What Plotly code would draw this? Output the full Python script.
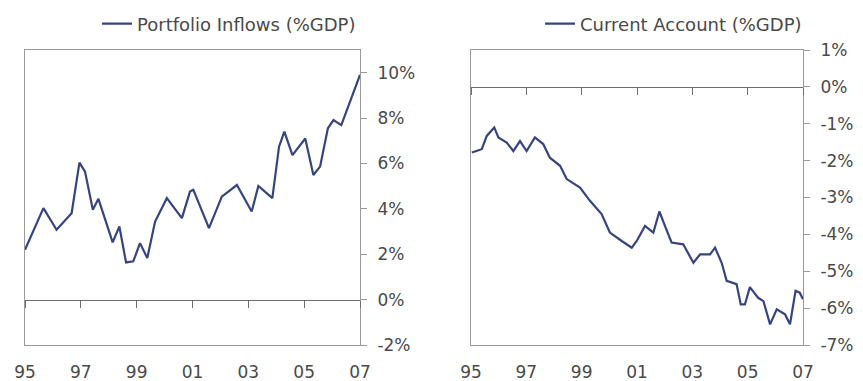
import plotly.graph_objects as go

# Portfolio inflows (% GDP), vertices (decimal years)
pi_dates = [1995.0, 1995.66, 1996.13, 1996.67, 1996.95, 1997.15, 1997.43, 1997.63,
            1998.14, 1998.38, 1998.62, 1998.88, 1999.12, 1999.38, 1999.66, 2000.08,
            2000.62, 2000.91, 2001.03, 2001.59, 2002.05, 2002.59, 2003.12, 2003.36,
            2003.86, 2004.10, 2004.29, 2004.58, 2005.04, 2005.33, 2005.57, 2005.85,
            2006.05, 2006.33, 2006.95, 2007.0]
pi_values = [2.2, 4.03, 3.08, 3.81, 6.04, 5.64, 3.96, 4.44,
             2.52, 3.22, 1.64, 1.69, 2.49, 1.83, 3.44, 4.47,
             3.59, 4.76, 4.84, 3.15, 4.54, 5.05, 3.88, 5.01,
             4.47, 6.74, 7.4, 6.37, 7.1, 5.49, 5.86, 7.55,
             7.91, 7.69, 9.74, 9.9]

# Current account (% GDP)
ca_dates = [1995.03, 1995.39, 1995.57, 1995.84, 1995.99, 1996.29, 1996.53, 1996.77,
            1997.01, 1997.31, 1997.61, 1997.85, 1998.22, 1998.46, 1998.94, 1999.30,
            1999.72, 2000.02, 2000.45, 2000.81, 2000.99, 2001.29, 2001.59, 2001.81,
            2002.01, 2002.25, 2002.67, 2003.04, 2003.28, 2003.64, 2003.82, 2004.06,
            2004.24, 2004.60, 2004.75, 2004.90, 2005.08, 2005.38, 2005.57, 2005.81,
            2006.05, 2006.35, 2006.53, 2006.73, 2006.88, 2007.0]
ca_values = [-1.78, -1.69, -1.33, -1.10, -1.37, -1.51, -1.74, -1.47,
             -1.74, -1.37, -1.55, -1.92, -2.14, -2.50, -2.73, -3.09,
             -3.45, -3.95, -4.18, -4.36, -4.18, -3.77, -3.95, -3.38,
             -3.77, -4.22, -4.27, -4.77, -4.54, -4.54, -4.36, -4.77,
             -5.26, -5.35, -5.90, -5.90, -5.43, -5.72, -5.81, -6.44,
             -6.03, -6.17, -6.44, -5.53, -5.58, -5.76]

year_ticks = [1995, 1997, 1999, 2001, 2003, 2005, 2007]
year_labels = ["95", "97", "99", "01", "03", "05", "07"]
left_yticks = [-2, 0, 2, 4, 6, 8, 10]
left_ylabels = ["-2%", "0%", "2%", "4%", "6%", "8%", "10%"]
right_yticks = [-7, -6, -5, -4, -3, -2, -1, 0, 1]
right_ylabels = ["-7%", "-6%", "-5%", "-4%", "-3%", "-2%", "-1%", "0%", "1%"]

# the page body has an 8px margin: size the figure to fill the rest of the window
OFF = 8
W, H = 863 - OFF, 381 - OFF
LINE = "#36447f"
FRAME = "#9a9a9a"
TXT = "#4a4a4a"
FONT = "DejaVu Sans"
FS = 17
LFS = 18


def px(sx):
    return (sx - OFF) / W


def py(sy):
    return 1 - (sy - OFF) / H


left_dom = [px(25), px(360)]
right_dom = [px(471), px(803)]
ydom = [py(345), py(50)]
left_yr = [-2, 11]
right_yr = [-7, 1]


def zero_pos(yr):
    return ydom[0] + (0 - yr[0]) / (yr[1] - yr[0]) * (ydom[1] - ydom[0])


fig = go.Figure()
fig.add_trace(go.Scatter(x=pi_dates, y=pi_values, mode="lines", name="Portfolio Inflows (%GDP)",
                         line=dict(color=LINE, width=2.2), xaxis="x", yaxis="y", legend="legend"))
fig.add_trace(go.Scatter(x=ca_dates, y=ca_values, mode="lines", name="Current Account (%GDP)",
                         line=dict(color=LINE, width=2.2), xaxis="x2", yaxis="y2", legend="legend2"))

common_x = dict(range=[1995, 2007], tickvals=year_ticks, ticktext=year_labels,
                showgrid=False, zeroline=False, showline=True, mirror=True, linecolor=FRAME,
                linewidth=1, ticks="outside", ticklen=0, ticklabelstandoff=12,
                tickfont=dict(family=FONT, size=FS, color=TXT))
common_y = dict(side="right", showgrid=False, zeroline=False, showline=True, mirror=True,
                linecolor=FRAME, linewidth=1, ticks="outside", ticklen=6, tickcolor=FRAME,
                ticklabelstandoff=7, tickfont=dict(family=FONT, size=FS, color=TXT), domain=ydom)
zero_axis = dict(range=[1995, 2007], tickvals=year_ticks, showticklabels=False, showgrid=False,
                 zeroline=False, showline=True, linecolor="#6e6e6e", linewidth=1,
                 ticks="outside", ticklen=7, tickcolor="#6e6e6e", anchor="free", side="bottom")

fig.update_layout(
    width=W, height=H, margin=dict(l=0, r=0, t=0, b=0, autoexpand=False),
    paper_bgcolor="white", plot_bgcolor="white",
    xaxis=dict(domain=left_dom, anchor="y", **common_x),
    yaxis=dict(range=left_yr, tickvals=left_yticks, ticktext=left_ylabels, anchor="x", **common_y),
    xaxis2=dict(domain=right_dom, anchor="y2", **common_x),
    yaxis2=dict(range=right_yr, tickvals=right_yticks, ticktext=right_ylabels, anchor="x2", **common_y),
    xaxis3=dict(domain=left_dom, overlaying="x", position=zero_pos(left_yr), **zero_axis),
    xaxis4=dict(domain=right_dom, overlaying="x2", position=zero_pos(right_yr), **zero_axis),
    legend=dict(x=px(97), y=py(24), xanchor="left", yanchor="middle", orientation="h",
                font=dict(family=FONT, size=LFS, color=TXT), bgcolor="rgba(0,0,0,0)"),
    legend2=dict(x=px(540), y=py(24), xanchor="left", yanchor="middle", orientation="h",
                 font=dict(family=FONT, size=LFS, color=TXT), bgcolor="rgba(0,0,0,0)"),
    showlegend=True,
)
# dummy traces to activate the zero-line axes
fig.add_trace(go.Scatter(x=[None], y=[None], xaxis="x3", yaxis="y", showlegend=False, hoverinfo="skip"))
fig.add_trace(go.Scatter(x=[None], y=[None], xaxis="x4", yaxis="y2", showlegend=False, hoverinfo="skip"))

fig.write_html("out.html")
